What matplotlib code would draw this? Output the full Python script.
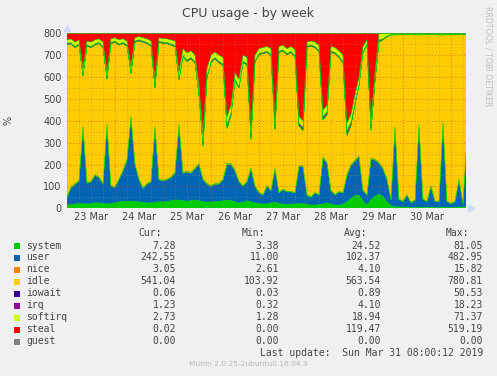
import numpy as np
import matplotlib.pyplot as plt
from matplotlib.patches import Rectangle
from matplotlib.ticker import MultipleLocator

# * Data: hours since 23 Mar 00:00, 2-hour steps
hours = np.arange(0, 201, 2)

system = [15, 18, 20, 22, 22, 20, 22, 25, 25, 22,
          20, 22, 25, 30, 32, 33, 33, 32, 30, 28,
          25, 25, 28, 30, 30, 32, 35, 38, 38, 35,
          33, 35, 38, 35, 30, 28, 30, 30, 32, 35,
          38, 35, 30, 25, 28, 35, 30, 25, 22, 20,
          20, 25, 28, 22, 20, 18, 20, 20, 22, 22,
          18, 15, 15, 18, 20, 25, 20, 15, 15, 18,
          30, 45, 60, 60, 35, 15, 40, 55, 65, 55,
          30, 12, 8, 6, 6, 6, 5, 5, 6, 5,
          5, 6, 5, 5, 6, 5, 5, 5, 6, 6, 7]
user = [35, 75, 88, 101, 348, 95, 98, 125, 115, 88,
        360, 78, 70, 100, 138, 187, 382, 168, 100, 62,
        85, 95, 342, 100, 95, 98, 105, 122, 342, 125,
        132, 125, 142, 165, 100, 82, 70, 80, 78, 95,
        162, 165, 140, 95, 72, 85, 150, 75, 48, 40,
        80, 55, 152, 48, 65, 57, 55, 50, 168, 168,
        42, 35, 55, 42, 210, 180, 60, 45, 60, 52,
        120, 150, 155, 175, 45, 45, 185, 165, 140, 125,
        100, 28, 362, 34, 24, 54, 20, 30, 374, 35,
        25, 94, 25, 25, 384, 25, 15, 25, 124, 14, 323]
nice = [4, 4, 5, 4, 6, 4, 4, 5, 4, 4,
        6, 4, 4, 5, 5, 5, 7, 5, 4, 4,
        4, 4, 6, 4, 4, 4, 4, 5, 6, 5,
        5, 5, 5, 5, 6, 5, 4, 4, 4, 4,
        6, 6, 5, 4, 4, 4, 5, 4, 4, 3,
        4, 3, 5, 3, 3, 3, 3, 3, 5, 5,
        3, 3, 3, 3, 5, 5, 3, 3, 3, 3,
        4, 5, 5, 5, 4, 3, 5, 5, 5, 4,
        4, 3, 6, 3, 3, 3, 3, 3, 6, 3,
        3, 4, 3, 3, 6, 3, 3, 3, 4, 3, 5]
iowait = [1, 1, 1, 1, 2, 1, 1, 1, 1, 1,
          2, 1, 1, 1, 1, 1, 2, 1, 1, 1,
          1, 1, 3, 1, 1, 1, 1, 1, 2, 1,
          1, 1, 1, 2, 5, 2, 1, 1, 1, 1,
          6, 3, 1, 1, 1, 1, 8, 1, 1, 1,
          1, 1, 4, 1, 1, 1, 1, 1, 3, 4,
          1, 1, 1, 1, 4, 3, 1, 1, 1, 1,
          8, 5, 2, 1, 1, 1, 6, 3, 4, 1,
          1, 0, 1, 0, 0, 1, 0, 0, 1, 0,
          0, 1, 0, 0, 1, 0, 0, 0, 1, 0, 0]
irq = [5, 5, 5, 5, 8, 5, 5, 5, 5, 5,
       8, 5, 5, 5, 5, 5, 8, 5, 5, 5,
       5, 5, 9, 5, 5, 5, 5, 5, 8, 6,
       6, 6, 6, 7, 12, 7, 6, 6, 6, 6,
       14, 10, 7, 7, 6, 6, 14, 6, 5, 5,
       5, 5, 12, 5, 5, 5, 5, 5, 10, 12,
       5, 5, 5, 5, 12, 10, 5, 5, 5, 6,
       15, 12, 9, 8, 5, 5, 14, 9, 6, 4,
       3, 2, 2, 2, 2, 2, 2, 2, 2, 2,
       2, 2, 2, 3, 2, 2, 2, 2, 2, 2, 2]
softirq = [15, 18, 20, 18, 25, 18, 20, 18, 16, 20,
           25, 16, 15, 18, 16, 18, 25, 15, 14, 15,
           16, 18, 28, 15, 16, 16, 18, 20, 28, 30,
           32, 30, 30, 35, 40, 35, 28, 25, 28, 30,
           35, 35, 30, 32, 28, 28, 35, 25, 22, 22,
           22, 25, 35, 22, 20, 22, 22, 25, 30, 30,
           18, 18, 20, 22, 30, 30, 22, 22, 25, 28,
           35, 35, 35, 32, 22, 18, 35, 30, 30, 25,
           12, 5, 5, 4, 4, 4, 4, 4, 5, 4,
           4, 4, 4, 4, 5, 4, 4, 4, 4, 4, 4]
steal = [30, 25, 40, 30, 160, 35, 40, 30, 25, 40,
         175, 25, 20, 30, 25, 35, 150, 20, 15, 20,
         25, 35, 210, 20, 25, 25, 30, 35, 175, 70,
         90, 80, 100, 240, 460, 160, 100, 85, 100, 110,
         380, 330, 180, 210, 100, 110, 430, 100, 70, 65,
         60, 70, 390, 60, 55, 70, 60, 75, 380, 400,
         40, 35, 40, 55, 350, 330, 60, 65, 80, 100,
         410, 370, 280, 200, 60, 30, 390, 180, 0, 0,
         0, 0, 0, 0, 0, 0, 0, 0, 0, 0,
         0, 0, 0, 0, 0, 0, 0, 0, 0, 0, 0]
guest = [0] * len(hours)

# idle is whatever is left of the 8 CPUs (800 %)
others = np.array([system, user, nice, iowait, irq, softirq, steal, guest]).sum(axis=0)
idle = 800 - others

names = ['system', 'user', 'nice', 'idle', 'iowait', 'irq', 'softirq', 'steal', 'guest']
colors = ['#00CC00', '#0066B3', '#FF8000', '#FFCC00', '#330099',
          '#990099', '#CCFF00', '#FF0000', '#808080']
cur = ['7.28', '242.55', '3.05', '541.04', '0.06', '1.23', '2.73', '0.02', '0.00']
mins = ['3.38', '11.00', '2.61', '103.92', '0.03', '0.32', '1.28', '0.00', '0.00']
avgs = ['24.52', '102.37', '4.10', '563.54', '0.89', '4.10', '18.94', '119.47', '0.00']
maxs = ['81.05', '482.95', '15.82', '780.81', '50.53', '18.23', '71.37', '519.19', '0.00']
day_labels = ['23 Mar', '24 Mar', '25 Mar', '26 Mar', '27 Mar', '28 Mar', '29 Mar', '30 Mar']

W, H = 497, 376
BG = '#F0F0F0'
TXT = '#444444'


def fx(x):
    return x / W


def fy(y):
    return 1 - y / H


fig = plt.figure(figsize=(W / 100, H / 100), dpi=100, facecolor=BG)
ax = fig.add_axes([fx(67), fy(208.3), 399 / W, 175 / H])
ax.set_facecolor(BG)

ax.stackplot(hours, system, user, nice, idle, iowait, irq, softirq, steal, guest,
             colors=colors, linewidth=0.3, edgecolors=colors)

ax.set_xlim(0, 199.5)
ax.set_ylim(0, 800)

# grid on top of the data, rrdtool style
ax.set_axisbelow(False)
ax.yaxis.set_major_locator(MultipleLocator(100))
ax.yaxis.set_minor_locator(MultipleLocator(50))
ax.grid(which='major', axis='y', color='#E04040', alpha=0.6, linestyle=(0, (1, 2)), linewidth=0.7)
ax.grid(which='minor', axis='y', color='#909090', alpha=0.5, linestyle=(0, (1, 2)), linewidth=0.7)
for h in range(6, 200, 6):
    if h % 24 == 0:
        ax.axvline(h, color='#E04040', alpha=0.6, linestyle=(0, (1, 2)), linewidth=0.7, zorder=3)
    else:
        ax.axvline(h, color='#909090', alpha=0.5, linestyle=(0, (1, 2)), linewidth=0.7, zorder=3)

ax.set_xticks([12 + 24 * k for k in range(len(day_labels))])
ax.set_xticklabels(day_labels)
ax.tick_params(axis='both', which='both', length=0, labelsize=7, colors=TXT)
ax.tick_params(axis='y', pad=4)
ax.tick_params(axis='x', pad=3)
for s in ax.spines.values():
    s.set_visible(False)

# axis arrows
ax.plot([0], [1 + 5 / 175], marker='^', ms=4, color='#CFD6F8', transform=ax.transAxes, clip_on=False)
ax.plot([1 + 5 / 399], [0], marker='>', ms=4, color='#CFD6F8', transform=ax.transAxes, clip_on=False)

fig.text(fx(248), fy(14), 'CPU usage - by week', ha='center', va='center', fontsize=9, color=TXT)
fig.text(fx(9), fy(120), '%', ha='center', va='center', rotation=90, fontsize=7, color=TXT)
fig.text(fx(488), fy(56.5), 'RRDTOOL / TOBI OETIKER', ha='center', va='center', rotation=270,
         fontsize=5.7, color='#C0C0C0')

# legend table
mono = 'DejaVu Sans Mono'
for label, xr in zip(['Cur:', 'Min:', 'Avg:', 'Max:'], [162, 265, 367, 469]):
    fig.text(fx(xr), fy(233.3), label, ha='right', va='center', fontsize=7, family=mono, color=TXT)
for k, name in enumerate(names):
    yc = 245.5 + 12 * k
    fig.patches.append(Rectangle((fx(14), fy(yc + 3)), 6 / W, 6 / H, transform=fig.transFigure,
                                 facecolor=colors[k], edgecolor='none'))
    fig.text(fx(26.5), fy(yc), name, ha='left', va='center', fontsize=7, family=mono, color=TXT)
    for val, xr in zip([cur[k], mins[k], avgs[k], maxs[k]], [176, 279.3, 381, 483]):
        fig.text(fx(xr), fy(yc), val, ha='right', va='center', fontsize=7, family=mono, color=TXT)

fig.text(fx(483), fy(353.3), 'Last update:  Sun Mar 31 08:00:12 2019', ha='right', va='center',
         fontsize=7, family=mono, color=TXT)
fig.text(fx(248.5), fy(364.5), 'Munin 2.0.25-2ubuntu0.16.04.3', ha='center', va='center',
         fontsize=5.4, color='#B8B8B8')

fig.savefig('out.png', dpi=100, facecolor=BG)
